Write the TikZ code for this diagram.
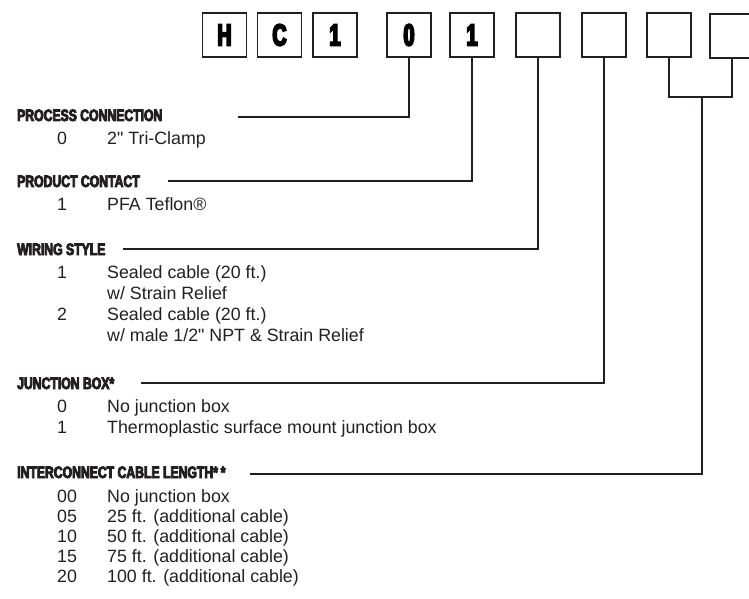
\documentclass[tikz,border=0pt]{standalone}
\usepackage{fontspec}
\setmainfont{Liberation Sans}[Ligatures=TeXOff]
\newfontfamily\headfont[FakeStretch=0.74,FakeBold=5]{Liberation Sans}
\newfontfamily\boxfont[FakeStretch=0.64,FakeBold=6]{Liberation Sans}
\definecolor{ink}{HTML}{231F20}
\begin{document}
\begin{tikzpicture}[x=1pt,y=-1pt,
  codebox/.style={draw=ink,line width=1.9pt,minimum size=44pt,inner sep=0pt,
    font=\boxfont\bfseries\fontsize{30.5}{30.5}\selectfont},
  head/.style={anchor=base west,inner sep=0pt,text=ink,font=\headfont\bfseries\fontsize{16.5}{18}\selectfont},
  item/.style={anchor=base west,inner sep=0pt,text=ink,font=\fontsize{17.8}{20.5}\selectfont},
  conn/.style={draw=ink,line width=1.7pt}]
\useasboundingbox (0,0) rectangle (749,599);
% code boxes
\node[codebox] (b1) at (224.5,35) {H};
\node[codebox] (b2) at (279.5,35) {C};
\node[codebox] (b3) at (335,35) {1};
\node[codebox] (b4) at (409,35) {0};
\node[codebox] (b5) at (472,35) {1};
\node[codebox] (b6) at (538,35) {};
\node[codebox] (b7) at (604,35) {};
\node[codebox] (b8) at (669,35) {};
\node[codebox] (b9) at (732,36) {};
% headings
\node[head] (h1) at (17,121) {PROCESS CONNECTION};
\node[head] (h2) at (17,187) {PRODUCT CONTACT};
\node[head] (h3) at (17,255) {WIRING STYLE};
\node[head] (h4) at (17,389) {JUNCTION BOX*};
\node[head] (h5) at (17,478) {INTERCONNECT CABLE LENGTH*\,*};
% line start coordinates
\coordinate (l1) at (238,117);
\coordinate (l2) at (168,181);
\coordinate (l3) at (123,249);
\coordinate (l4) at (141,383);
\coordinate (l5) at (250,474);
\coordinate (j) at (702,97);
% connectors
\draw[conn] (b4.south) |- (l1);
\draw[conn] (b5.south) |- (l2);
\draw[conn] (b6.south) |- (l3);
\draw[conn] (b7.south) |- (l4);
\draw[conn] (b8.south) |- (j) -| (b9.south);
\draw[conn] (j) |- (l5);
% items
\node[item] (n1) at (57,144) {0};
\node[item] (t1) at (107,144) {2" Tri-Clamp};
\node[item] (n2) at (57,210) {1};
\node[item] (t2) at (107,210) {PFA Teflon®};
\node[item] (n3) at (57,278) {1};
\node[item] (t3) at (107,278) {Sealed cable (20 ft.)};
\node[item] (t3b) at (107,299) {w/ Strain Relief};
\node[item] (n4) at (57,320) {2};
\node[item] (t4) at (107,320) {Sealed cable (20 ft.)};
\node[item] (t4b) at (107,341) {w/ male 1/2" NPT \& Strain Relief};
\node[item] (n5) at (57,412) {0};
\node[item] (t5) at (107,412) {No junction box};
\node[item] (n6) at (57,433) {1};
\node[item] (t6) at (107,433) {Thermoplastic surface mount junction box};
\node[item] (n7) at (57,502) {00};
\node[item] (t7) at (107,502) {No junction box};
\node[item] (n8) at (57,522) {05};
\node[item] (t8) at (107,522) {25 ft. (additional cable)};
\node[item] (n9) at (57,542) {10};
\node[item] (t9) at (107,542) {50 ft. (additional cable)};
\node[item] (n10) at (57,562) {15};
\node[item] (t10) at (107,562) {75 ft. (additional cable)};
\node[item] (n11) at (57,582) {20};
\node[item] (t11) at (107,582) {100 ft. (additional cable)};
\end{tikzpicture}
\end{document}
